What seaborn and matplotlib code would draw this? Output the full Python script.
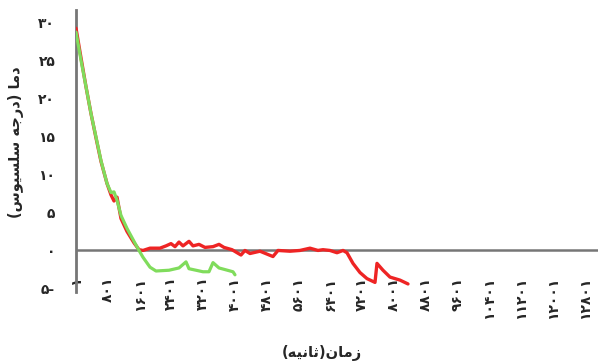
import matplotlib
matplotlib.use("Agg")
import matplotlib.pyplot as plt
import pandas as pd
import seaborn as sns

# Temperature readings (deg C) against sample index
red_idx = [1, 127, 253, 378, 504, 630, 781, 882, 957, 1033, 1133, 1284, 1460, 1586,
           1687, 1863, 2114, 2265, 2391, 2492, 2592, 2693, 2844, 2945, 3096, 3247,
           3448, 3599, 3725, 3926, 4152, 4253, 4378, 4630, 4957, 5083, 5385, 5636,
           5888, 6089, 6215, 6391, 6568, 6719, 6819, 6970, 7146, 7322, 7524, 7574,
           7725, 7901, 8153, 8354]
red_temp = [29.2, 25.3, 21.5, 18.0, 14.8, 11.7, 8.8, 7.3, 6.5, 7.0, 4.2, 2.5, 1.0, 0.1,
            0.0, 0.3, 0.3, 0.6, 0.9, 0.5, 1.1, 0.6, 1.2, 0.6, 0.8, 0.4,
            0.5, 0.8, 0.4, 0.1, -0.6, 0.0, -0.4, -0.1, -0.8, 0.0, -0.1, 0.0,
            0.3, 0.0, 0.1, 0.0, -0.3, 0.0, -0.3, -1.7, -2.9, -3.7, -4.2, -1.7,
            -2.6, -3.5, -3.9, -4.4]

green_idx = [1, 127, 253, 378, 504, 630, 781, 882, 957, 1033, 1133, 1284, 1460, 1586,
             1687, 1863, 2014, 2341, 2592, 2769, 2844, 3196, 3347, 3448, 3599, 3951, 4001]
green_temp = [28.7, 25.0, 21.5, 18.0, 14.9, 11.8, 8.8, 7.6, 7.7, 6.6, 4.6, 2.9, 1.2, 0.0,
              -0.9, -2.2, -2.7, -2.6, -2.3, -1.5, -2.4, -2.8, -2.8, -1.6, -2.3, -2.8, -3.2]

ytick_vals = [-5, 0, 5, 10, 15, 20, 25, 30]
ytick_labels = ["۵-", "۰", "۵", "۱۰", "۱۵", "۲۰", "۲۵", "۳۰"]
xtick_vals = [1, 801, 1601, 2401, 3201, 4001, 4801, 5601, 6401, 7201, 8001,
              8801, 9601, 10401, 11201, 12001, 12801]
xtick_labels = ["۱", "۸۰۱", "۱۶۰۱", "۲۴۰۱", "۳۲۰۱", "۴۰۰۱", "۴۸۰۱", "۵۶۰۱", "۶۴۰۱",
                "۷۲۰۱", "۸۰۰۱", "۸۸۰۱", "۹۶۰۱", "۱۰۴۰۱", "۱۱۲۰۱", "۱۲۰۰۱", "۱۲۸۰۱"]

# Axis titles written with Arabic presentation forms, already in visual order
xlabel_text = "(" + "\uFEEA\uFEF4\uFEE7\uFE8E\uFE9B" + ")" + "\uFEE5\uFE8E\uFEE3\uFEAF"
ylabel_text = ("(" + "\uFEB1\uFEEE\uFEF4\uFEB4\uFEE0\uFEB3" + " "
               + "\uFEEA\uFE9F\uFEAD\uFEA9" + ")" + " " + "\uFE8E\uFEE3\uFEA9")

sns.set_style("white")
plt.rcParams["font.family"] = ["DejaVu Sans"]
plt.rcParams["font.weight"] = "bold"

fig = plt.figure(figsize=(5.98, 3.63), dpi=100)
ax = fig.add_axes([76 / 598, 1 - 292 / 363, 522 / 598, 282 / 363])

axis_grey = "#767676"
ax.axhline(0, color=axis_grey, lw=1.8, zorder=1)

df_red = pd.DataFrame({"idx": red_idx, "temp": red_temp})
df_green = pd.DataFrame({"idx": green_idx, "temp": green_temp})
sns.lineplot(data=df_red, x="idx", y="temp", color="#ee2424", lw=2.4, ax=ax, zorder=3)
sns.lineplot(data=df_green, x="idx", y="temp", color="#80dc5c", lw=2.3, ax=ax, zorder=4)

ax.set_xlim(1, 13135)
ax.set_ylim(-5.46, 31.6)

for side in ["top", "right", "bottom"]:
    ax.spines[side].set_visible(False)
ax.spines["left"].set_color(axis_grey)
ax.spines["left"].set_linewidth(2)

ax.set_yticks(ytick_vals)
ax.set_yticklabels(ytick_labels, fontsize=10, fontweight="bold")
ax.tick_params(axis="y", length=0, pad=15)

ax.set_xticks(xtick_vals)
ax.set_xticklabels(xtick_labels, rotation=90, fontsize=10, fontweight="bold")
ax.tick_params(axis="x", length=0, pad=-11)

ax.set_ylabel(ylabel_text, fontsize=10.5, fontweight="bold", va="center")
ax.yaxis.set_label_coords(-0.115, 0.532)
ax.set_xlabel(xlabel_text, fontsize=10.5, fontweight="bold", va="center")
ax.xaxis.set_label_coords(0.471, -0.216)

fig.savefig("out.png", dpi=100)
